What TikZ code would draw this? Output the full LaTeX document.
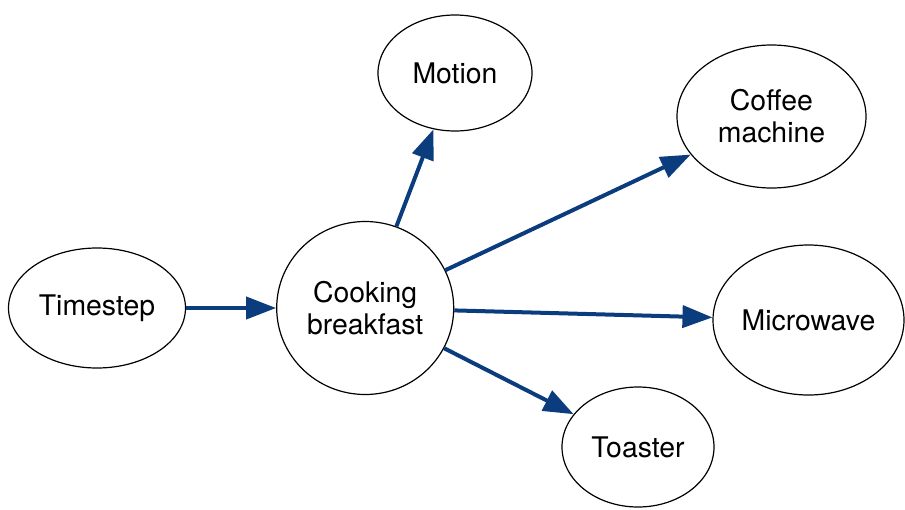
\documentclass[tikz,border=0pt]{standalone}
\usepackage{fontspec}
\setmainfont{TeX Gyre Heros}
\usepackage{tikz}
\usetikzlibrary{arrows.meta, positioning, shapes.geometric}
\definecolor{figdarkblue}{HTML}{0B3C7D}
\tikzset{
  figellipse/.style={ellipse, draw=black, line width=0.6pt, fill=white, align=center,
    inner sep=0pt, font=\fontsize{14.2}{16}\selectfont},
  figarrow/.style={-{Triangle[length=15pt, width=11pt]}, line width=2pt, figdarkblue},
}
\begin{document}
\begin{tikzpicture}[x=0.5pt, y=-0.5pt]
  \useasboundingbox (0,0) rectangle (905,509);
  \node[figellipse, minimum width=88.5pt, minimum height=60pt] (time) at (97,308) {Timestep};
  \node[figellipse, minimum width=88.5pt, minimum height=86.5pt, right=45pt of time] (cook) {Cooking\\breakfast};
  \node[figellipse, minimum width=77pt, minimum height=58pt] (motion) at (455,73) {Motion};
  \node[figellipse, minimum width=94.5pt, minimum height=71.5pt] (coffee) at (771.5,116.5) {Coffee\\machine};
  \node[figellipse, minimum width=95.5pt, minimum height=75pt] (micro) at (808.5,320) {Microwave};
  \node[figellipse, minimum width=76pt, minimum height=60pt] (toast) at (638,447) {Toaster};
  \foreach \a/\b in {time/cook,cook/motion,cook/coffee,cook/micro,cook/toast} \draw[figarrow] (\a) -- (\b);
\end{tikzpicture}
\end{document}
